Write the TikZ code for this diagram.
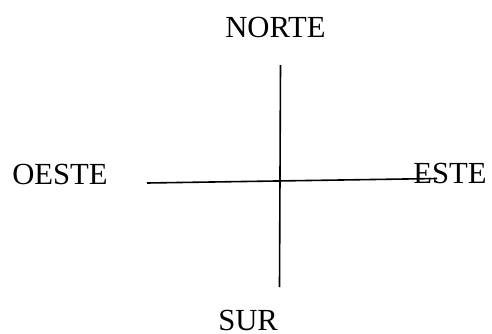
\documentclass[tikz,border=0pt]{standalone}
\usepackage{fontspec}
\setmainfont{Liberation Serif}
\tikzset{
  rumbo/.style={inner sep=0pt,anchor=base west,font=\fontsize{23}{27}\selectfont},
  eje/.style={line width=1.2pt}
}
\begin{document}
\begin{tikzpicture}[x=0.75pt,y=-0.75pt,line cap=butt]
  \useasboundingbox (0,0) rectangle (492,333);
  \coordinate (N) at (280.5,65);
  \coordinate (S) at (279.5,287);
  \coordinate (O) at (147,183);
  \coordinate (E) at (437,178.5);
  \draw[eje] (N) -- (S);
  \draw[eje] (O) -- (E);
  \node[rumbo] (norte) at (225,37) {NORTE};
  \node[rumbo] (oeste) at (12,184) {OESTE};
  \node[rumbo] (este) at (413,183) {ESTE};
  \node[rumbo] (sur) at (218,330.5) {SUR};
\end{tikzpicture}
\end{document}
